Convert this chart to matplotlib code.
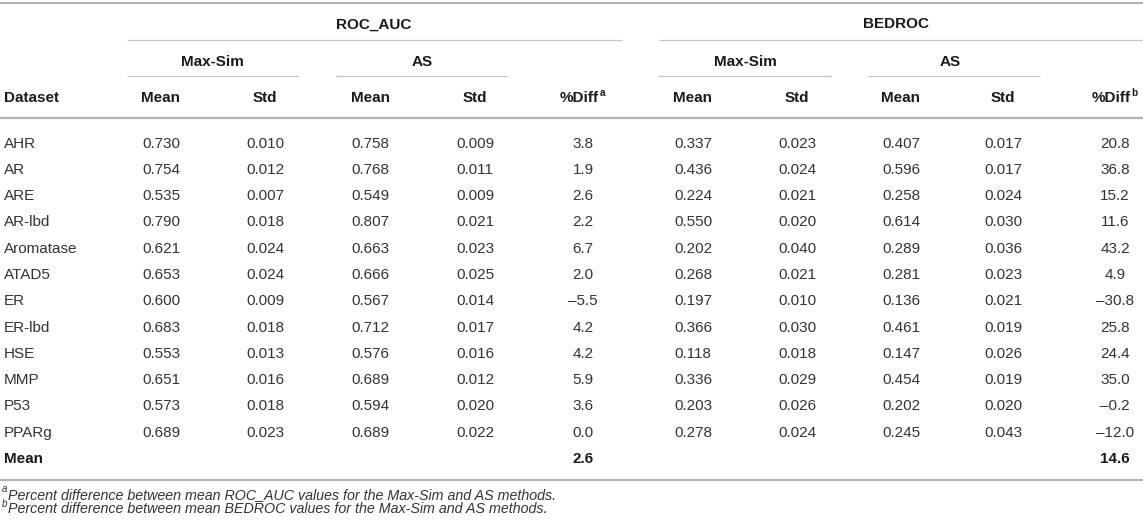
import matplotlib
matplotlib.use("Agg")
import matplotlib.pyplot as plt

# table data
datasets = ['AHR', 'AR', 'ARE', 'AR-lbd', 'Aromatase', 'ATAD5', 'ER', 'ER-lbd',
            'HSE', 'MMP', 'P53', 'PPARg']
roc_ms_mean = [0.730, 0.754, 0.535, 0.790, 0.621, 0.653, 0.600, 0.683, 0.553, 0.651, 0.573, 0.689]
roc_ms_std = [0.010, 0.012, 0.007, 0.018, 0.024, 0.024, 0.009, 0.018, 0.013, 0.016, 0.018, 0.023]
roc_as_mean = [0.758, 0.768, 0.549, 0.807, 0.663, 0.666, 0.567, 0.712, 0.576, 0.689, 0.594, 0.689]
roc_as_std = [0.009, 0.011, 0.009, 0.021, 0.023, 0.025, 0.014, 0.017, 0.016, 0.012, 0.020, 0.022]
roc_diff = [3.8, 1.9, 2.6, 2.2, 6.7, 2.0, -5.5, 4.2, 4.2, 5.9, 3.6, 0.0]
bed_ms_mean = [0.337, 0.436, 0.224, 0.550, 0.202, 0.268, 0.197, 0.366, 0.118, 0.336, 0.203, 0.278]
bed_ms_std = [0.023, 0.024, 0.021, 0.020, 0.040, 0.021, 0.010, 0.030, 0.018, 0.029, 0.026, 0.024]
bed_as_mean = [0.407, 0.596, 0.258, 0.614, 0.289, 0.281, 0.136, 0.461, 0.147, 0.454, 0.202, 0.245]
bed_as_std = [0.017, 0.017, 0.024, 0.030, 0.036, 0.023, 0.021, 0.019, 0.026, 0.019, 0.020, 0.043]
bed_diff = [20.8, 36.8, 15.2, 11.6, 43.2, 4.9, -30.8, 25.8, 24.4, 35.0, -0.2, -12.0]
mean_roc_diff = 2.6
mean_bed_diff = 14.6

groups = ['ROC_AUC', 'BEDROC']
methods = ['Max-Sim', 'AS']
col_labels = ['Mean', 'Std', 'Mean', 'Std']
footnotes = [('a', 'Percent difference between mean ROC_AUC values for the Max-Sim and AS methods.'),
             ('b', 'Percent difference between mean BEDROC values for the Max-Sim and AS methods.')]

plt.rcParams['font.family'] = ['Liberation Sans', 'DejaVu Sans']

W, H = 1143, 524
fig = plt.figure(figsize=(W / 100, H / 100), dpi=100)
ax = fig.add_axes([0, 0, 1, 1])
ax.set_xlim(0, W)
ax.set_ylim(H, 0)
ax.axis('off')

FS = 11
BODY = '#333333'
HEAD = '#1a1a1a'
LINE = '#b4b4b4'
THIN = '#c4c4c4'

def fmt(v, nd):
    s = f"{v:.{nd}f}"
    return s.replace('-', '\u2013')

def txt(x, y, s, ha='center', bold=False, color=BODY, size=FS, style='normal'):
    # y is the visual middle of the caps, put it on the baseline
    return ax.text(x, y + size * 0.5, s, ha=ha, va='baseline', fontsize=size,
                   fontweight='bold' if bold else 'normal', color=color, fontstyle=style)

# column centres
roc_x = [161, 265, 370, 475]
bed_x = [693, 797, 901, 1003]
roc_diff_x = 583
bed_diff_x = 1115
row_y0, row_dy = 142, 26.3

# rules
ax.hlines(2.5, 0, W, color=LINE, lw=1.6)
ax.hlines(118, 0, W, color=LINE, lw=1.6)
ax.hlines(480, 0, W, color=LINE, lw=1.6)
ax.hlines(40, 127, 622, color=THIN, lw=0.9)
ax.hlines(40, 659, W, color=THIN, lw=0.9)
for x0, x1 in [(127, 298), (336, 507), (658, 831), (868, 1040)]:
    ax.hlines(76, x0, x1, color=THIN, lw=0.9)

# group headers
txt(374, 23, groups[0], bold=True, color=HEAD)
txt(896, 23, groups[1], bold=True, color=HEAD)
for cx, m in zip([212, 422, 745, 950], methods * 2):
    txt(cx, 60, m, bold=True, color=HEAD)

# column headers
txt(4, 97, 'Dataset', ha='left', bold=True, color=HEAD)
for xs in (roc_x, bed_x):
    for cx, lab in zip(xs, col_labels):
        txt(cx, 97, lab, bold=True, color=HEAD)
for cx, sup in [(roc_diff_x, 'a'), (bed_diff_x, 'b')]:
    txt(cx + 16, 97, '%Diff', ha='right', bold=True, color=HEAD)
    ax.text(cx + 16.5, 97 - 1, sup, ha='left', va='baseline', fontsize=7.2,
            fontweight='bold', color=HEAD)

# body rows
for i, name in enumerate(datasets):
    y = row_y0 + i * row_dy
    txt(4, y, name, ha='left')
    vals = [roc_ms_mean[i], roc_ms_std[i], roc_as_mean[i], roc_as_std[i]]
    for cx, v in zip(roc_x, vals):
        txt(cx, y, fmt(v, 3))
    txt(roc_diff_x, y, fmt(roc_diff[i], 1))
    vals = [bed_ms_mean[i], bed_ms_std[i], bed_as_mean[i], bed_as_std[i]]
    for cx, v in zip(bed_x, vals):
        txt(cx, y, fmt(v, 3))
    txt(bed_diff_x, y, fmt(bed_diff[i], 1))

# mean row
y = row_y0 + len(datasets) * row_dy
txt(4, y, 'Mean', ha='left', bold=True, color=HEAD)
txt(roc_diff_x, y, fmt(mean_roc_diff, 1), bold=True, color=HEAD)
txt(bed_diff_x, y, fmt(mean_bed_diff, 1), bold=True, color=HEAD)

# footnotes
for k, (sup, note) in enumerate(footnotes):
    fy = 493.5 + k * 14.5
    ax.text(2, fy - 1, sup, ha='left', va='baseline', fontsize=7.0, fontstyle='italic', color=BODY)
    txt(8, fy, note, ha='left', size=10.3, style='italic')

fig.savefig('out.png', dpi=100)
